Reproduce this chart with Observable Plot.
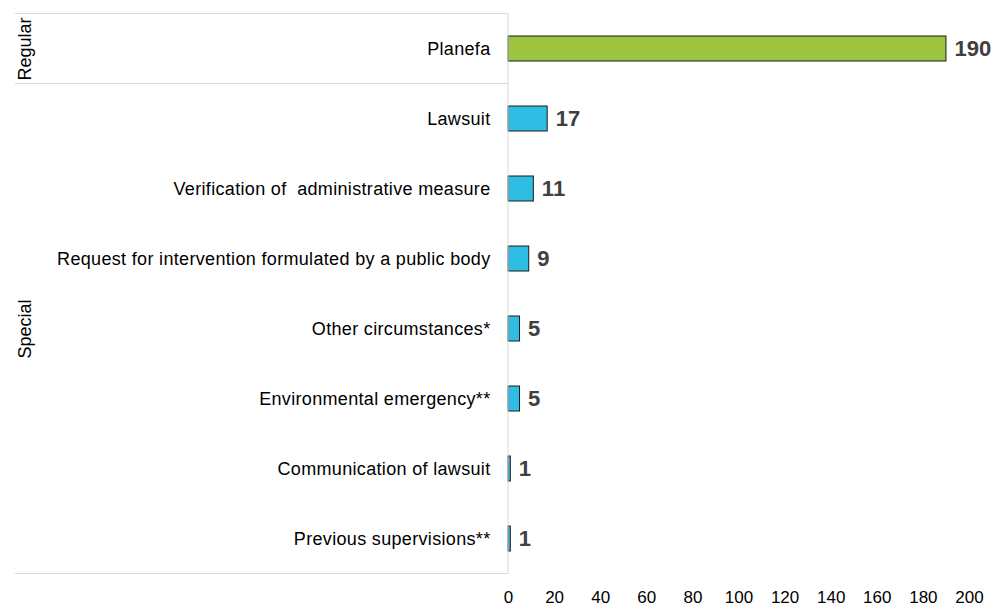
<!DOCTYPE html>
<html>
<head>
<meta charset="utf-8">
<script src="https://cdn.jsdelivr.net/npm/d3@7"></script>
<script src="https://cdn.jsdelivr.net/npm/@observablehq/plot@0.6"></script>
<style>
  html, body { margin: 0; padding: 0; background: #fff; }
  #chart svg { display: block; font-family: "Liberation Sans", Arial, sans-serif; }
  #chart svg g[aria-label="y-axis tick label"] text { letter-spacing: 0.33px; }
</style>
</head>
<body>
<div id="chart"></div>
<script>
const categories = [
  "Planefa",
  "Lawsuit",
  "Verification of  administrative measure",
  "Request for intervention formulated by a public body",
  "Other circumstances*",
  "Environmental emergency**",
  "Communication of lawsuit",
  "Previous supervisions**"
];
const values = [190, 17, 11, 9, 5, 5, 1, 1];
const groups = ["Regular", "Special", "Special", "Special", "Special", "Special", "Special", "Special"];
const groupNames = ["Regular", "Special"];
const groupColors = ["#9dc43f", "#30bde3"];
const xTicks = [0, 20, 40, 60, 80, 100, 120, 140, 160, 180, 200];

const data = categories.map((c, i) => ({category: c, value: values[i], group: groups[i]}));

// group label rows: middle category of each group
const groupLabels = groupNames.map(g => {
  const cats = data.filter(d => d.group === g).map(d => d.category);
  return {group: g, category: cats[Math.floor(cats.length / 2)]};
});

const W = 1002, H = 607;
const plot = Plot.plot({
  width: W,
  height: H,
  marginLeft: 508,
  marginRight: 33,
  marginTop: 10,
  marginBottom: 30,
  style: {fontFamily: "'Liberation Sans', Arial, sans-serif", background: "#fff"},
  x: {domain: [0, 200], label: null},
  y: {domain: categories, paddingInner: 0.64, paddingOuter: 0.32, label: null, axis: null},
  color: {domain: groupNames, range: groupColors},
  marks: [
    Plot.axisX({ticks: xTicks, tickSize: 0, tickPadding: 13, fontSize: 17, fill: "#000", label: null}),
    Plot.axisY({tickSize: 0, tickPadding: 18, fontSize: 18, fill: "#000", label: null}),
    Plot.barX(data, {x: "value", y: "category", fill: "group", stroke: "#1a1a1a", strokeWidth: 1}),
    Plot.text(data, {x: "value", y: "category", text: d => String(d.value), textAnchor: "start", dx: 8,
      fontSize: 22, fontWeight: "bold", fill: "#404040"}),
    Plot.text(groupLabels, {y: "category", text: "group", frameAnchor: "left", textAnchor: "middle",
      dx: -483, rotate: -90, fontSize: 18, fill: "#000"})
  ]
});

document.getElementById("chart").appendChild(plot);

// group frame lines drawn from the plot's own y scale
const ys = plot.scale("y");
const step = ys.step;
const half = step / 2;
const center = c => ys.apply(c) + ys.bandwidth / 2;
const svg = d3.select(plot);
const xLeft = 15, xRight = 508;
const yTop = center(categories[0]) - half;
const yBottom = center(categories[categories.length - 1]) + half;
const g = svg.append("g").attr("stroke", "#d9d9d9").attr("stroke-width", 1).attr("fill", "none");
const boundaries = [yTop];
groupNames.forEach(name => {
  const cats = data.filter(d => d.group === name).map(d => d.category);
  boundaries.push(center(cats[cats.length - 1]) + half);
});
boundaries.forEach(y => {
  g.append("line").attr("x1", xLeft).attr("x2", xRight).attr("y1", y).attr("y2", y);
});
g.append("line").attr("x1", xRight).attr("x2", xRight).attr("y1", yTop).attr("y2", yBottom);
</script>
</body>
</html>
